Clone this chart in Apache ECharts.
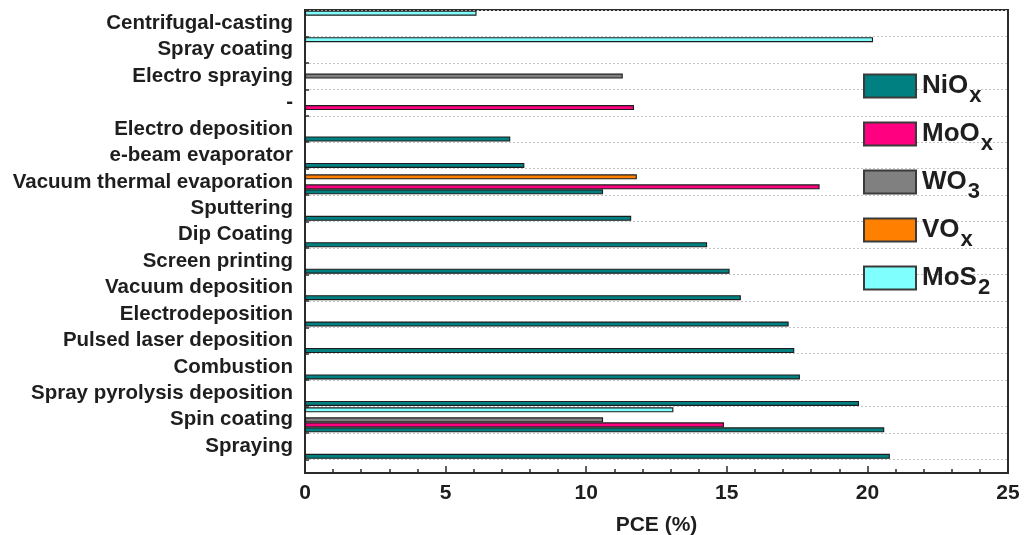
<!DOCTYPE html>
<html>
<head>
<meta charset="utf-8">
<script src="https://cdn.jsdelivr.net/npm/echarts@6/dist/echarts.min.js"></script>
<style>
  html, body { margin: 0; padding: 0; background: #ffffff; }
  #chart { width: 1025px; height: 535px; }
</style>
</head>
<body>
<div id="chart"></div>
<script>
// Deposition methods, listed from the top of the chart downwards
const categories = [
  'Centrifugal-casting', 'Spray coating', 'Electro spraying', '-',
  'Electro deposition', 'e-beam evaporator', 'Vacuum thermal evaporation',
  'Sputtering', 'Dip Coating', 'Screen printing', 'Vacuum deposition',
  'Electrodeposition', 'Pulsed laser deposition', 'Combustion',
  'Spray pyrolysis deposition', 'Spin coating', 'Spraying'
];

// Best PCE (%) per hole-transport material and method
const nioxPCE = [null, null, null, null, 7.3, 7.8, 10.6, 11.6, 14.3, 15.1, 15.5, 17.2, 17.4, 17.6, 19.7, 20.6, 20.8];
const mooxPCE = [null, null, null, 11.7, null, null, 18.3, null, null, null, null, null, null, null, null, 14.9, null];
const wo3PCE  = [null, null, 11.3, null, null, null, null, null, null, null, null, null, null, null, null, 10.6, null];
const voxPCE  = [null, null, null, null, null, null, 11.8, null, null, null, null, null, null, null, null, null, null];
const mos2PCE = [6.1, 20.2, null, null, null, null, null, null, null, null, null, null, null, null, null, 13.1, null];

const materialNames = ['NiOx', 'MoOx', 'WO3', 'VOx', 'MoS2'];
const xTickValues = [0, 5, 10, 15, 20, 25];

const FONT = '"Liberation Sans", Arial, sans-serif';
const INK = '#1e1e1e';
const FRAME = '#2b2b2b';

const colors = {
  NiOx: '#008080',
  MoOx: '#ff0080',
  WO3:  '#808080',
  VOx:  '#ff8000',
  MoS2: '#80ffff'
};

function barSeries(name, values) {
  return {
    name: name,
    type: 'bar',
    xAxisIndex: 0,
    yAxisIndex: 0,
    data: values,
    barWidth: 5,
    barGap: '0%',
    itemStyle: { color: colors[name], borderColor: '#1c1c1c', borderWidth: 1.1 },
    emphasis: { disabled: true }
  };
}

const chart = echarts.init(document.getElementById('chart'), null, { renderer: 'canvas' });

chart.setOption({
  animation: false,
  backgroundColor: '#ffffff',
  grid: [
    // plotting area holding the bars
    { left: 305, top: 10, width: 703, height: 449.5, show: false, outerBoundsMode: 'none', containLabel: false },
    // outer frame and PCE axis
    {
      left: 305, top: 10, width: 703, height: 463, show: true, borderColor: FRAME, borderWidth: 2,
      backgroundColor: 'transparent', outerBoundsMode: 'none', containLabel: false
    }
  ],
  xAxis: [
    { gridIndex: 0, type: 'value', min: 0, max: 25, interval: 5, show: false },
    {
      gridIndex: 1, type: 'value', min: xTickValues[0], max: xTickValues[xTickValues.length - 1], interval: 5,
      name: 'PCE (%)', nameLocation: 'middle', nameGap: 42,
      nameTextStyle: { fontFamily: FONT, fontSize: 21, fontWeight: 'bold', color: INK },
      axisLine: { show: true, lineStyle: { color: FRAME, width: 2 } },
      axisTick: { show: true, inside: true, length: 7, lineStyle: { color: FRAME, width: 1.5 } },
      minorTick: { show: true, splitNumber: 5, length: 4, lineStyle: { color: FRAME, width: 1.5 } },
      splitLine: { show: false },
      axisLabel: { fontFamily: FONT, fontSize: 21, fontWeight: 'bold', color: INK, margin: 10 }
    }
  ],
  yAxis: [
    {
      gridIndex: 0, type: 'category', data: categories, inverse: true,
      axisLine: { show: false },
      axisTick: { show: true, inside: true, length: 4, interval: 0, lineStyle: { color: FRAME, width: 1.5 } },
      splitLine: { show: true, interval: 0, lineStyle: { type: [2, 2], color: '#c4c4c4', width: 1 } },
      axisLabel: {
        interval: 0, fontFamily: FONT, fontSize: 20.5, fontWeight: 'bold', color: INK,
        margin: 12, padding: [0, 0, 3, 0]
      }
    },
    {
      gridIndex: 1, type: 'value', min: 0, max: 1,
      axisLine: { show: true, lineStyle: { color: FRAME, width: 2 } },
      axisTick: { show: false }, axisLabel: { show: false }, splitLine: { show: false }
    }
  ],
  legend: {
    data: materialNames,
    orient: 'vertical',
    left: 858,
    top: 68,
    itemWidth: 52,
    itemHeight: 23,
    itemGap: 14,
    icon: 'rect',
    selectedMode: false,
    itemStyle: { borderColor: '#3a3a3a', borderWidth: 2 },
    formatter: function (name) {
      return '{m|' + name.slice(0, -1) + '}{s|' + name.slice(-1) + '}';
    },
    textStyle: {
      padding: [0, 0, 0, 1],
      rich: {
        m: { fontFamily: FONT, fontSize: 26, fontWeight: 'bold', color: INK, lineHeight: 26, verticalAlign: 'top' },
        s: { fontFamily: FONT, fontSize: 22, fontWeight: 'bold', color: INK, lineHeight: 20, padding: [12, 0, 0, 1], verticalAlign: 'top' }
      }
    }
  },
  // series listed top slot first within each method's band
  series: [
    barSeries('MoS2', mos2PCE),
    barSeries('VOx', voxPCE),
    barSeries('WO3', wo3PCE),
    barSeries('MoOx', mooxPCE),
    barSeries('NiOx', nioxPCE)
  ]
});
</script>
</body>
</html>
